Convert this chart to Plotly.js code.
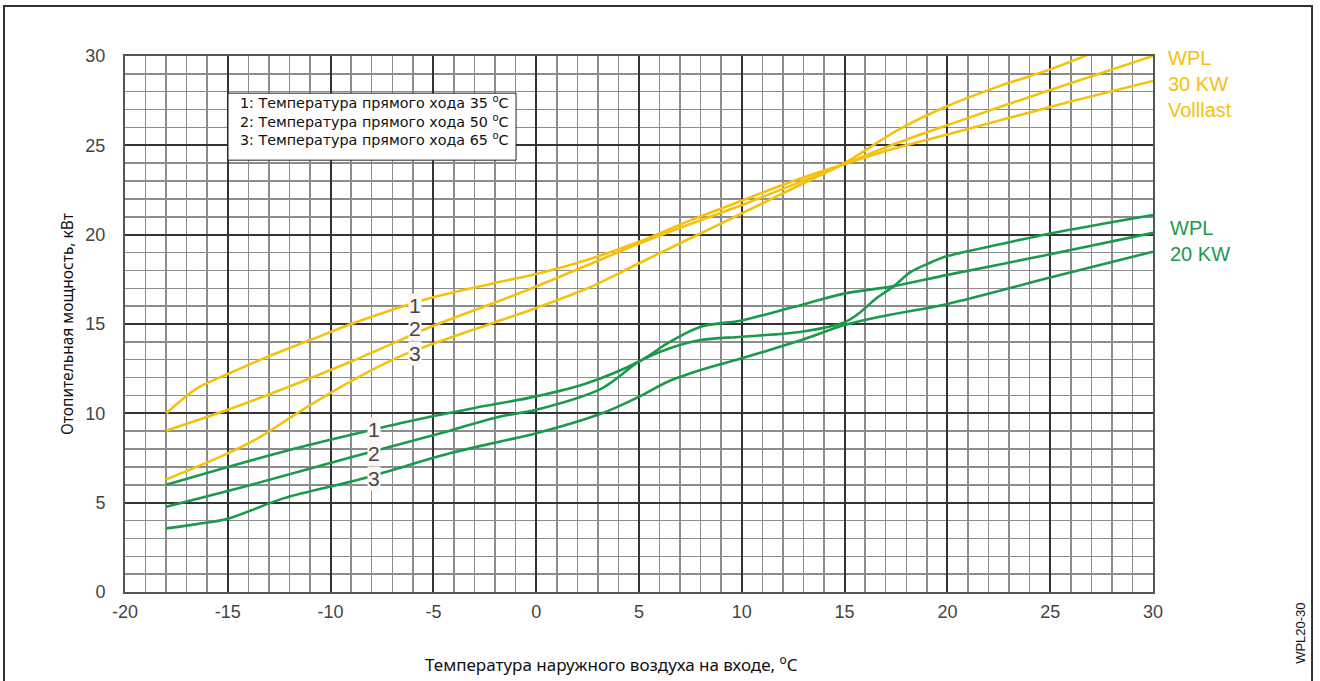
<!DOCTYPE html>
<html>
<head>
<meta charset="utf-8">
<script src="https://cdn.plot.ly/plotly-3.0.1.min.js"></script>
<style>html,body{margin:0;padding:0;background:#fff;}#chart{width:1320px;height:681px;}</style>
</head>
<body>
<div id="chart"></div>
<script>
// Outdoor air temperature (°C) vs heating capacity (kW)
// WPL 30 KW Volllast (yellow)
const y35x = [-18,-16.5,-15,-13,-11,-9,-7,-5,-2,0,2.5,5,7.5,10,12.5,15,17.5,20,25,30];
const y35y = [10.0,11.4,12.2,13.2,14.1,15.0,15.8,16.5,17.3,17.8,18.6,19.6,20.8,21.9,23.0,23.95,24.85,25.6,27.15,28.6];
const y50x = [-18,-15,-12,-9,-6.6,-5,-2,0,2.5,5,7.5,10,12.5,15,17.5,20,25,30];
const y50y = [9.03,10.2,11.5,12.9,14.1,14.9,16.2,17.1,18.3,19.5,20.6,21.66,22.8,23.95,25.1,26.13,28.1,30.0];
const y65x = [-18,-15,-13.4,-11.5,-9,-6.6,-5,-2,0,2.5,5,7.5,10,12.5,15,17.5,20,22.5,25,26.8];
const y65y = [6.3,7.76,8.7,10.1,11.8,13.2,13.9,15.1,15.9,17.0,18.4,19.8,21.19,22.6,24.0,25.8,27.2,28.3,29.25,30.05];
// WPL 20 KW (green)
const g35x = [-18,-15,-12,-9,-6,-3,0,2.5,5,6.5,8,10,12.5,15,17.4,20,25,30];
const g35y = [6.0,7.0,7.95,8.8,9.6,10.3,10.95,11.7,12.9,14.0,14.85,15.2,15.95,16.7,17.12,17.75,18.9,20.1];
const g50x = [-18,-13.9,-8.6,-4.2,-1.8,0,3.2,5,6.4,8,10,12.9,15,15.7,16.5,17.4,18.2,19,20,22.5,25,27.5,30];
const g50y = [4.77,5.99,7.67,9.03,9.81,10.2,11.4,12.89,13.6,14.1,14.29,14.57,15.1,15.6,16.4,17.12,17.9,18.35,18.8,19.45,20.07,20.6,21.1];
const g65x = [-18,-16.5,-15,-12.3,-8.6,-4.2,-1.8,0,3.2,5,6.4,8,10,12.9,15,16.7,20,25,30];
const g65y = [3.56,3.8,4.1,5.24,6.3,7.76,8.41,8.88,10.0,10.93,11.77,12.42,13.08,14.1,14.94,15.4,16.12,17.6,19.05];

const xTicks = [-20,-15,-10,-5,0,5,10,15,20,25,30];
const yTicks = [0,5,10,15,20,25,30];
const legendLines = ['1: Температура прямого хода 35 <sup>o</sup>C','2: Температура прямого хода 50 <sup>o</sup>C','3: Температура прямого хода 65 <sup>o</sup>C'];
const legendLineY = [27.42,26.38,25.34];
const curveLabels = ['1','2','3'];
const yLabelPos = {x: -5.9, y: [16.06,14.77,13.37]};
const gLabelPos = {x: -7.9, y: [9.07,7.78,6.38]};

const YEL = '#f4c20d', GRN = '#1b9a4b';
const mk = (x,y,c) => ({x:x,y:y,type:'scatter',mode:'lines',line:{color:c,width:2.6,shape:'spline',smoothing:0.9},hoverinfo:'skip',showlegend:false});
const data = [mk(y35x,y35y,YEL),mk(y50x,y50y,YEL),mk(y65x,y65y,YEL),mk(g35x,g35y,GRN),mk(g50x,g50y,GRN),mk(g65x,g65y,GRN)];

const annotations = [];
curveLabels.forEach((t,i)=>{
  annotations.push({x:yLabelPos.x,y:yLabelPos.y[i],xref:'x',yref:'y',text:t,showarrow:false,bgcolor:'#faf7f5',borderpad:0,font:{family:'Liberation Sans, Arial',size:21,color:'#444'}});
  annotations.push({x:gLabelPos.x,y:gLabelPos.y[i],xref:'x',yref:'y',text:t,showarrow:false,bgcolor:'#faf7f5',borderpad:0,font:{family:'Liberation Sans, Arial',size:21,color:'#444'}});
});
legendLines.forEach((t,i)=>{
  annotations.push({x:-14.5,y:legendLineY[i],xref:'x',yref:'y',xanchor:'left',yanchor:'middle',align:'left',text:t,showarrow:false,font:{family:'DejaVu Sans',size:14.3,color:'#111'}});
});
annotations.push({x:1.013,y:1.021,xref:'paper',yref:'paper',xanchor:'left',yanchor:'top',align:'left',text:'WPL<br>30 KW<br>Volllast',showarrow:false,font:{family:'Liberation Sans, Arial',size:20,color:YEL}});
annotations.push({x:1.015,y:21.1,xref:'paper',yref:'y',xanchor:'left',yanchor:'top',align:'left',text:'WPL<br>20 KW',showarrow:false,font:{family:'Liberation Sans, Arial',size:20,color:GRN}});
annotations.push({x:1.144,y:-0.078,xref:'paper',yref:'paper',xanchor:'center',yanchor:'middle',text:'WPL20-30',textangle:-90,showarrow:false,font:{family:'Liberation Sans, Arial',size:13,color:'#111'}});
annotations.push({x:0.4728,y:-0.1325,xref:'paper',yref:'paper',xanchor:'center',yanchor:'middle',text:'Температура наружного воздуха на входе, <sup>o</sup>C',showarrow:false,font:{family:'Noto Sans',size:17,color:'#111'}});

const axisCommon = {showline:true,mirror:true,linecolor:'#555',linewidth:2,gridcolor:'#333',gridwidth:2,zeroline:false,ticks:'',
  tickfont:{family:'Liberation Sans, Arial',size:18,color:'#444'},fixedrange:true};
const layout = {
  width:1320,height:681,paper_bgcolor:'#fff',plot_bgcolor:'#fff',
  margin:{l:125,r:167,t:56,b:89},
  xaxis:Object.assign({},axisCommon,{range:[-20,30],tickvals:xTicks,ticktext:xTicks.map(String),ticklabelstandoff:2,
    minor:{dtick:1,tick0:0,showgrid:true,gridcolor:'#8c8c8c',gridwidth:1.5}}),
  yaxis:Object.assign({},axisCommon,{range:[0,30],tickvals:yTicks,ticktext:yTicks.map(String),ticklabelstandoff:14,
    minor:{dtick:1,tick0:0,showgrid:true,gridcolor:'#8c8c8c',gridwidth:1.5},
    title:{text:'Отопительная мощность, кВт',standoff:8,font:{family:'Noto Sans',size:15.5,color:'#111'}}}),
  annotations:annotations,
  shapes:[
    {type:'rect',xref:'paper',yref:'paper',x0:-0.1177,x1:1.1547,y0:-0.2,y1:1.0933,line:{color:'#333',width:2},fillcolor:'rgba(0,0,0,0)',layer:'above'},
    {type:'rect',xref:'x',yref:'y',x0:-14.99,x1:-0.98,y0:24.17,y1:27.92,line:{color:'#222',width:1},fillcolor:'#fff',layer:'above'}
  ]
};
Plotly.newPlot('chart',data,layout,{displayModeBar:false,staticPlot:true});
</script>
</body>
</html>
